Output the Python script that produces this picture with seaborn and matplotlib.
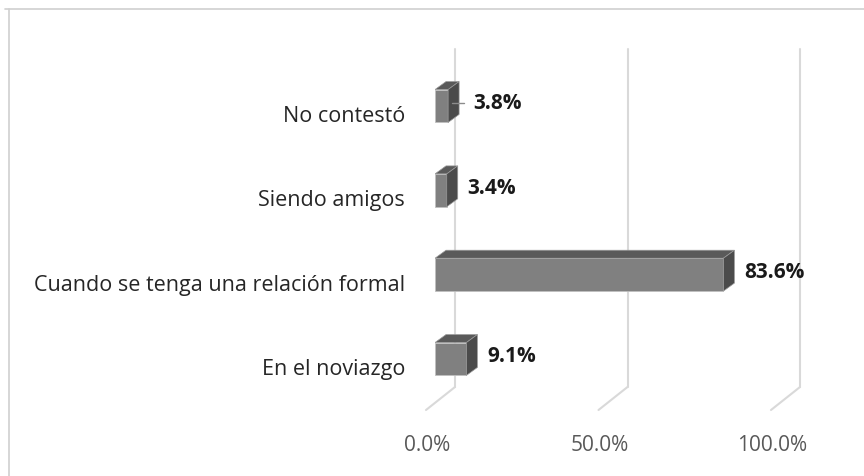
import matplotlib
matplotlib.use("Agg")
import matplotlib.pyplot as plt
import matplotlib.transforms as mtrans
from matplotlib.patches import Polygon
import pandas as pd
import seaborn as sns

categorias = ["No contestó", "Siendo amigos", "Cuando se tenga una relación formal", "En el noviazgo"]
porcentajes = [3.8, 3.4, 83.6, 9.1]
ticks = [0, 50, 100]
tick_labels = ["0.0%", "50.0%", "100.0%"]

df = pd.DataFrame({"categoria": categorias, "pct": porcentajes})

sns.set_theme(style="white")
plt.rcParams["font.family"] = ["Open Sans", "DejaVu Sans"]

W, H = 864, 477
fig = plt.figure(figsize=(W / 100, H / 100), dpi=100)

# axes placed in pixel terms: 0% at x=435, 100% at x=780; top y=50, floor y=411
left, right, top, bottom = 435, 780, 50, 411
ax = fig.add_axes([left / W, 1 - bottom / H, (right - left) / W, (bottom - top) / H])

step = 84.33           # pixels between categories
first = 107            # pixel y of first category
ux = 100 / (right - left)   # data units per pixel (x)
uy = 1 / step               # data units per pixel (y, downward)

sns.barplot(data=df, x="pct", y="categoria", orient="h", color="#808080", saturation=1,
            width=0.39, edgecolor="#bfbfbf", linewidth=0.6, ax=ax, zorder=3)

ax.set_xlim(0, 100)
ax.set_ylim((bottom - first) / step, -(first - top) / step)

# back wall grid + floor diagonals
grid_c = "#d9d9d9"
for t in ticks:
    xb = t + 20 * ux
    ax.plot([xb, xb], [-(first - top) / step, (388 - first) * uy], color=grid_c, lw=1.5, clip_on=False, zorder=0)
    ax.plot([xb, t - 9 * ux], [(388 - first) * uy, (411 - first) * uy], color=grid_c, lw=1.5, clip_on=False, zorder=0)

# fake 3D: top and side faces
dx, dy = 11 * ux, 8 * uy
for p in ax.patches[:len(porcentajes)]:
    x0, yt = p.get_x(), p.get_y()
    x1, yb = x0 + p.get_width(), yt + p.get_height()
    top_face = Polygon([(x0, yt), (x1, yt), (x1 + dx, yt - dy), (x0 + dx, yt - dy)],
                       closed=True, facecolor="#5a5a5a", edgecolor="#9a9a9a", lw=0.5, zorder=3)
    side_face = Polygon([(x1, yt), (x1 + dx, yt - dy), (x1 + dx, yb - dy), (x1, yb)],
                        closed=True, facecolor="#4b4b4b", edgecolor="#9a9a9a", lw=0.5, zorder=3)
    ax.add_patch(top_face)
    ax.add_patch(side_face)

# value labels
for i, v in enumerate(porcentajes):
    shift = 25 if i == 0 else 21
    ax.annotate(f"{v:.1f}%", xy=(v, i), xytext=(shift * 0.72, 3 * 0.72), textcoords="offset points",
                ha="left", va="center", fontsize=15, fontweight="bold", color="#1a1a1a", zorder=5)
# leader line for the first label
ax.plot([porcentajes[0] + 4 * ux, porcentajes[0] + 16 * ux], [-3 * uy, -3 * uy], color="#8c8c8c", lw=1, zorder=4)

ax.set_xticks(ticks)
ax.set_xticklabels(tick_labels, fontsize=15, color="#595959")
ax.tick_params(axis="x", length=0, pad=17)
ax.tick_params(axis="y", length=0, pad=21.5, labelsize=15.5, labelcolor="#262626")
for lab in ax.get_xticklabels():
    lab.set_transform(lab.get_transform() + mtrans.ScaledTranslation(-8 / 100, 0, fig.dpi_scale_trans))
for lab in ax.get_yticklabels():
    lab.set_transform(lab.get_transform() + mtrans.ScaledTranslation(0, -7 / 100, fig.dpi_scale_trans))
ax.set_xlabel("")
ax.set_ylabel("")
sns.despine(ax=ax, left=True, bottom=True)

# chart area border (top and left visible)
fig.add_artist(plt.Line2D([5 / W, 1], [1 - 9.5 / H, 1 - 9.5 / H], color="#d0d0d0", lw=1.2, transform=fig.transFigure))
fig.add_artist(plt.Line2D([8.5 / W, 8.5 / W], [0, 1 - 9.5 / H], color="#d0d0d0", lw=1.2, transform=fig.transFigure))

fig.savefig("out.png", dpi=100)
